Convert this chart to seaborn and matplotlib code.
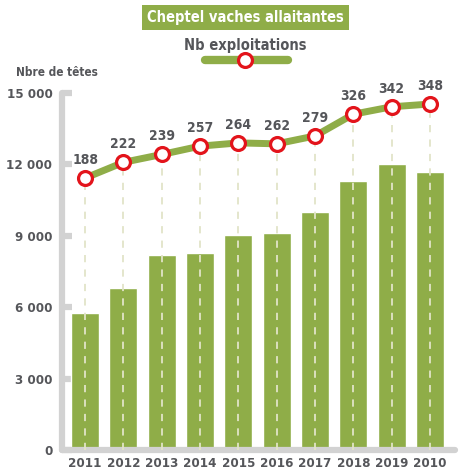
import matplotlib
matplotlib.use("Agg")
import matplotlib.pyplot as plt
import seaborn as sns
import pandas as pd

# Daten
annees = ["2011", "2012", "2013", "2014", "2015", "2016", "2017", "2018", "2019", "2010"]
tetes = [5750, 6800, 8200, 8300, 9050, 9100, 10000, 11300, 12000, 11700]
exploitations = [188, 222, 239, 257, 264, 262, 279, 326, 342, 348]
yticks = [0, 3000, 6000, 9000, 12000, 15000]
ytick_labels = ["0", "3 000", "6 000", "9 000", "12 000", "15 000"]

df = pd.DataFrame({"annee": annees, "tetes": tetes, "nb": exploitations})

vert = "#8fad48"
rouge = "#e3141b"
gris = "#55565a"
gris_clair = "#d2d2d2"

sns.set_style("white")
plt.rcParams["font.family"] = ["DejaVu Sans"]
plt.rcParams["font.stretch"] = "condensed"
plt.rcParams["font.weight"] = "bold"

fig = plt.figure(figsize=(4.6, 4.74), dpi=100)
ax = fig.add_axes([0.135, 0.05, 0.854, 0.754])

# Balken
sns.barplot(data=df, x="annee", y="tetes", color=vert, width=0.73,
            saturation=1, ax=ax, zorder=2)
ax.set_ylim(0, 15000)
ax.set_xlim(-0.6, 9.65)
ax.set_yticks(yticks)
ax.set_yticklabels(ytick_labels)
ax.set_xlabel("")
ax.set_ylabel("")
for s in ["top", "right"]:
    ax.spines[s].set_visible(False)
for s in ["left", "bottom"]:
    ax.spines[s].set_color(gris_clair)
    ax.spines[s].set_linewidth(4.5)
    ax.spines[s].set_capstyle("round")
ax.tick_params(axis="y", direction="in", length=7, width=4.5, color=gris_clair,
               labelsize=9.5, labelcolor=gris, pad=7)
ax.tick_params(axis="x", length=0, labelsize=9.5, labelcolor=gris, pad=5)
for lab in ax.get_xticklabels() + ax.get_yticklabels():
    lab.set_fontweight("bold")
    lab.set_fontstretch("condensed")

# Linie auf zweiter Achse
ax2 = ax.twinx()
ax2.set_ylim(-400, 372)
ax2.axis("off")
pos = range(len(annees))
ax2.vlines(list(pos), -400, exploitations, colors="#e2e4c8", linestyles=(0, (4, 4)),
           linewidth=1.3, zorder=1)
sns.lineplot(x=annees, y=exploitations, sort=False, ax=ax2, color=vert,
             linewidth=5, zorder=2)
ax2.plot(list(pos), exploitations, linestyle="none", marker="o", markersize=10,
         markerfacecolor="white", markeredgecolor=rouge, markeredgewidth=2.3, zorder=3)
for i, v in enumerate(exploitations):
    ax2.annotate(str(v), (i, v), xytext=(0, 8), textcoords="offset points",
                 ha="center", va="bottom", fontsize=10, color=gris,
                 fontweight="bold", fontstretch="condensed")

# Titel und Legende
fig.text(0.533, 0.963, "Cheptel vaches allaitantes", ha="center", va="center",
         fontsize=10.5, color="white", fontweight="bold", fontstretch="condensed",
         bbox=dict(boxstyle="square,pad=0.35", facecolor=vert, edgecolor="none"))
fig.text(0.533, 0.905, "Nb exploitations", ha="center", va="center",
         fontsize=10.5, color=gris, fontweight="bold", fontstretch="condensed")
fig.add_artist(plt.Line2D([0.446, 0.627], [0.873, 0.873], color=vert, linewidth=6,
                          solid_capstyle="round", transform=fig.transFigure))
fig.add_artist(plt.Line2D([0.533], [0.873], marker="o", markersize=10,
                          markerfacecolor="white", markeredgecolor=rouge,
                          markeredgewidth=2.3, transform=fig.transFigure))
fig.text(0.035, 0.848, "Nbre de têtes", ha="left", va="center",
         fontsize=8.5, color=gris, fontweight="bold", fontstretch="condensed")

fig.savefig("out.png", dpi=100)
